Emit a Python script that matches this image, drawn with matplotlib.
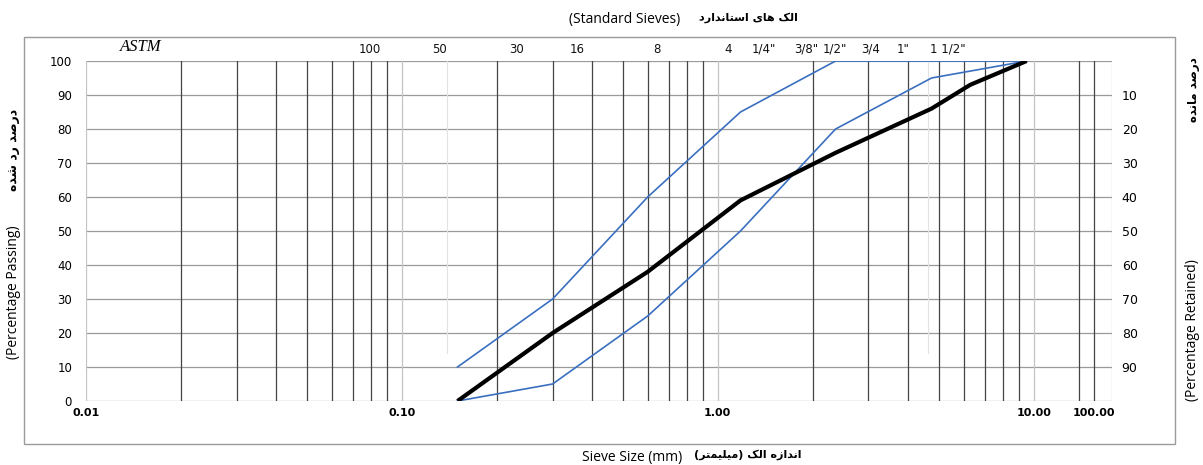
import matplotlib
matplotlib.use("Agg")
import matplotlib.pyplot as plt
from matplotlib.patches import Rectangle

# sieve openings (mm) and percentage passing
black_size = [0.15, 0.3, 0.6, 1.18, 2.36, 4.75, 6.3, 9.5]
black_pass = [0, 20, 38, 59, 73, 86, 93, 100]
upper_size = [0.15, 0.3, 0.6, 1.18, 2.36, 9.5]
upper_pass = [10, 30, 60, 85, 100, 100]
lower_size = [0.15, 0.3, 0.6, 1.18, 2.36, 4.75, 9.5]
lower_pass = [0, 5, 25, 50, 80, 95, 100]

sieve_names = ["100", "50", "30", "16", "8", "4", '1/4"', '3/8"', '1/2"', "3/4", '1"', '1 1/2"']
sieve_pos = [0.079, 0.132, 0.23, 0.36, 0.64, 1.08, 1.4, 1.9, 2.35, 3.05, 3.85, 5.35]
x_ticks = [0.01, 0.1, 1, 10, 15.5]
x_ticklabels = ["0.01", "0.10", "1.00", "10.00", "100.00"]

# minimal arabic shaping (no reshaper lib available)
FORMS = {
    "ا": ("\uFE8D", "\uFE8E", None, None),
    "ت": ("\uFE95", "\uFE96", "\uFE97", "\uFE98"),
    "د": ("\uFEA9", "\uFEAA", None, None),
    "ر": ("\uFEAD", "\uFEAE", None, None),
    "ز": ("\uFEAF", "\uFEB0", None, None),
    "س": ("\uFEB1", "\uFEB2", "\uFEB3", "\uFEB4"),
    "ش": ("\uFEB5", "\uFEB6", "\uFEB7", "\uFEB8"),
    "ص": ("\uFEB9", "\uFEBA", "\uFEBB", "\uFEBC"),
    "ل": ("\uFEDD", "\uFEDE", "\uFEDF", "\uFEE0"),
    "م": ("\uFEE1", "\uFEE2", "\uFEE3", "\uFEE4"),
    "ن": ("\uFEE5", "\uFEE6", "\uFEE7", "\uFEE8"),
    "ه": ("\uFEE9", "\uFEEA", "\uFEEB", "\uFEEC"),
    "ک": ("\uFB8E", "\uFB8F", "\uFB90", "\uFB91"),
    "ی": ("\uFBFC", "\uFBFD", "\uFBFE", "\uFBFF"),
}


def fa(s):
    out = []
    for i, c in enumerate(s):
        if c not in FORMS:
            out.append(c)
            continue
        prev = s[i - 1] if i > 0 else ""
        nxt = s[i + 1] if i + 1 < len(s) else ""
        jp = prev in FORMS and FORMS[prev][2] is not None
        jn = FORMS[c][2] is not None and nxt in FORMS
        iso, fin, ini, med = FORMS[c]
        out.append(med if (jp and jn) else fin if jp else ini if jn else iso)
    return "".join(reversed(out)).translate(str.maketrans("()", ")("))


W, H = 1203, 465
fig = plt.figure(figsize=(W / 100, H / 100), dpi=100)
ax = fig.add_axes([86 / W, 64 / H, 1026 / W, 340 / H])

ax.plot(upper_size, upper_pass, color="#3a6fc0", lw=1.2, zorder=3)
ax.plot(lower_size, lower_pass, color="#3a6fc0", lw=1.2, zorder=3)
ax.plot(black_size, black_pass, color="black", lw=3, solid_capstyle="butt", zorder=4)

ax.set_xscale("log")
ax.set_xlim(0.01, 17.7)
ax.set_ylim(0, 100)
for s in ax.spines.values():
    s.set_visible(False)

# grid
for y in range(0, 101, 10):
    ax.axhline(y, color="#9a9a9a", lw=0.9, zorder=1)
for d in [0.01, 0.1, 1]:
    for k in range(2, 10):
        ax.axvline(d * k, color="#444444", lw=0.9, zorder=1)
for x in [0.01, 0.1, 1, 10, 17.7]:
    ax.axvline(x, color="#c4c4c4", lw=0.9, zorder=1)
for x in [13.9, 15.5]:
    ax.axvline(x, color="#444444", lw=0.9, zorder=1)
for x in [0.139, 4.62]:
    ax.axvline(x, ymin=0.14, color="#e2e2e2", lw=0.8, zorder=1)

ax.set_yticks(range(0, 101, 10))
ax.tick_params(axis="y", length=0, pad=10, labelsize=8.5)
ax.set_xticks(x_ticks)
ax.set_xticklabels(x_ticklabels, fontsize=8, fontweight="bold")
ax.minorticks_off()
ax.tick_params(axis="x", length=0, pad=5)

ax2 = ax.twinx()
ax2.set_ylim(100, 0)
ax2.set_yticks(range(10, 100, 10))
ax2.tick_params(axis="y", length=0, pad=7, labelsize=9)
for s in ax2.spines.values():
    s.set_visible(False)

# sieve labels above the grid
for name, xp in zip(sieve_names, sieve_pos):
    ax.text(xp, 103.5, name, ha="center", va="center", fontsize=8.5,
            color="#111111")
ax.text(0.0149, 104, "ASTM", ha="center", va="center", fontsize=12,
        family="Liberation Serif", style="italic")

# frame and titles
fig.patches.append(Rectangle((24 / W, 1 - 444 / H), 1151 / W, 407 / H,
                             transform=fig.transFigure, fill=False,
                             ec="#9a9a9a", lw=1))
fig.text(625 / W, 1 - 20 / H, "(Standard Sieves)", ha="center", va="center",
         fontsize=10, family="Open Sans")
fig.text(748 / W, 1 - 18 / H, fa("الک های استاندارد"), ha="center", va="center",
         fontsize=8, fontweight="bold", family="DejaVu Sans")
fig.text(632 / W, 1 - 457 / H, "Sieve Size (mm)", ha="center", va="center",
         fontsize=10, family="Open Sans")
fig.text(748 / W, 1 - 455 / H, fa("اندازه الک (میلیمتر)"), ha="center",
         va="center", fontsize=8, fontweight="bold", family="DejaVu Sans")
fig.text(14 / W, 1 - 292 / H, "(Percentage Passing)", ha="center", va="center",
         rotation=90, fontsize=10, family="Open Sans")
fig.text(14 / W, 1 - 150 / H, fa("درصد رد شده"), ha="center", va="center",
         rotation=90, fontsize=9, fontweight="bold", family="DejaVu Sans")
fig.text(1193 / W, 1 - 330 / H, "(Percentage Retained)", ha="center",
         va="center", rotation=90, fontsize=10, family="Open Sans")
fig.text(1193 / W, 1 - 90 / H, fa("درصد مانده"), ha="center", va="center",
         rotation=90, fontsize=8.5, fontweight="bold", family="DejaVu Sans")

fig.savefig("out.png", dpi=100)
